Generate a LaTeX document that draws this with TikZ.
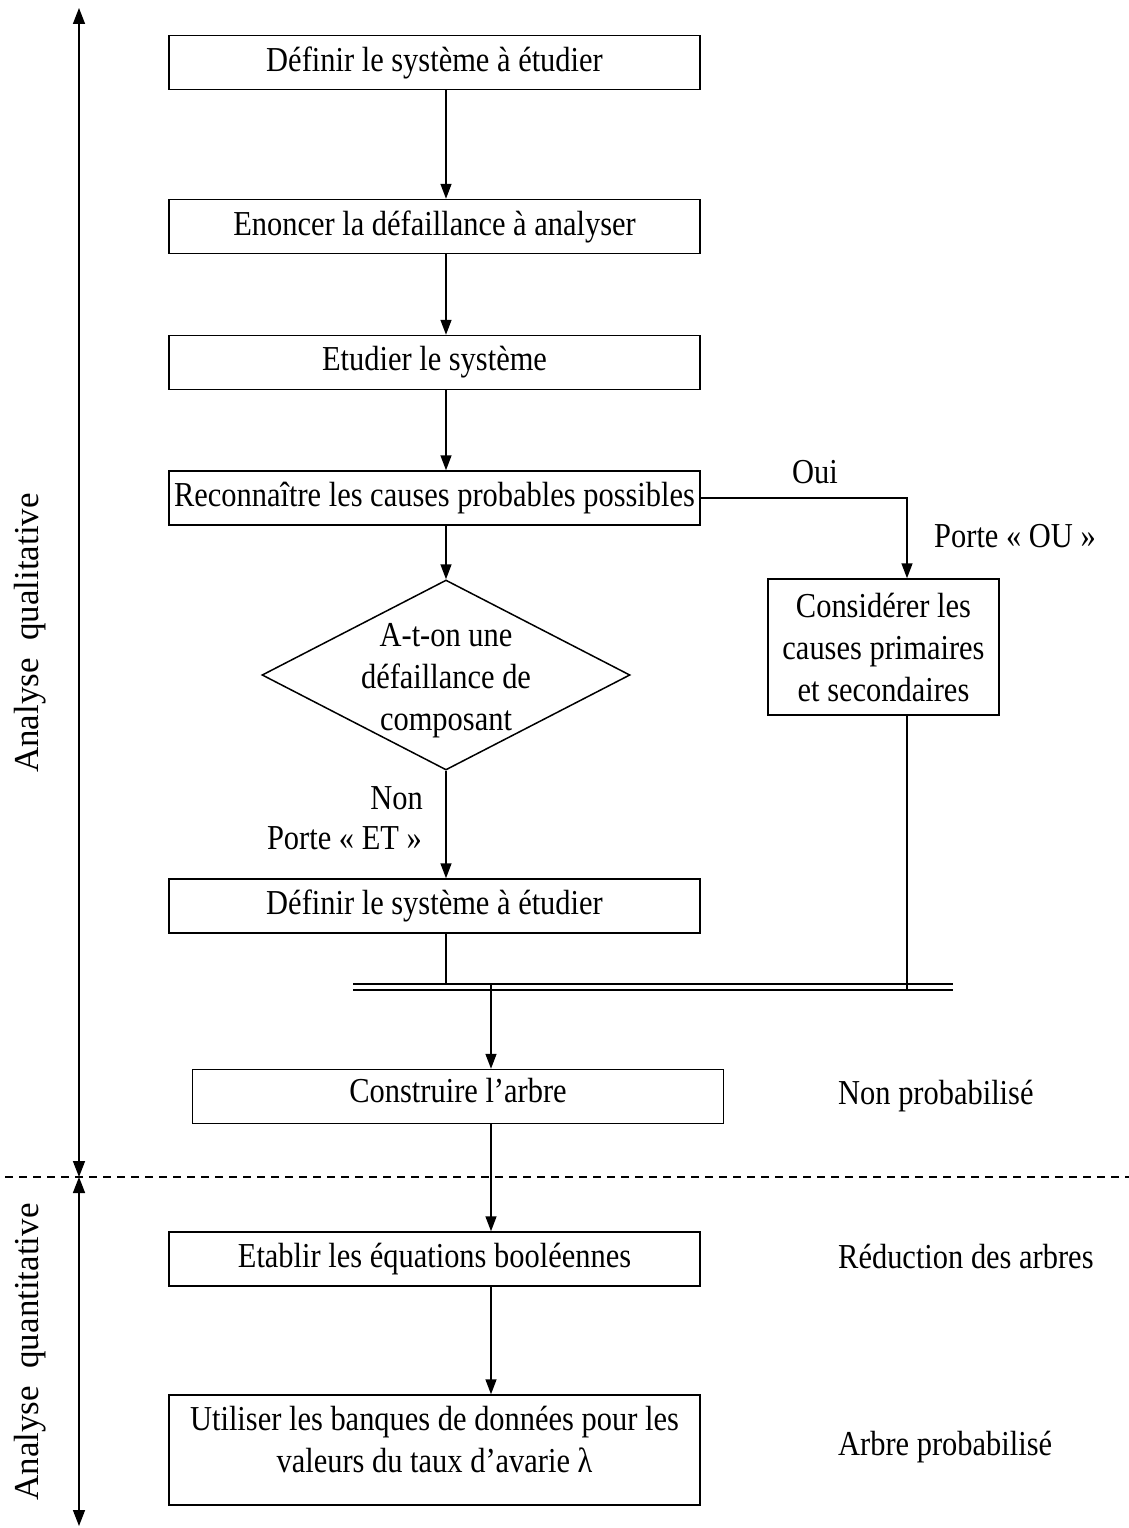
\documentclass[tikz,border=0pt]{standalone}
\usepackage{fontspec}
\setmainfont{Liberation Serif}[FakeStretch=0.87]
\newfontfamily\uprightserif{Liberation Serif}
\usetikzlibrary{arrows.meta,shapes.geometric}
\begin{document}
\begin{tikzpicture}[x=1pt,y=-1pt,
  every node/.style={font=\fontsize{35}{42}\selectfont, inner sep=0pt},
  stepbox/.style={draw, line width=1.5pt, minimum width=531pt, minimum height=54pt},
  flow/.style={line width=1.5pt, -{Triangle[length=15pt,width=11pt]}},
  plain/.style={line width=1.5pt},
  axis/.style={line width=1.5pt, {Triangle[length=16pt,width=12pt]}-{Triangle[length=16pt,width=12pt]}},
  phase/.style={rotate=90, font=\uprightserif\fontsize{35}{42}\selectfont}]
\useasboundingbox (0,0) rectangle (1129,1528);

% main sequence of steps
\node[stepbox] (s1) at (434.5,62.5) {Définir le système à étudier};
\node[stepbox] (s2) at (434.5,226.5) {Enoncer la défaillance à analyser};
\node[stepbox] (s3) at (434.5,362.5) {Etudier le système};
\node[stepbox] (s4) at (434.5,498) {Reconnaître les causes probables possibles};
\node[draw, diamond, line width=1.5pt, minimum width=368pt, minimum height=190pt] (d) at (446,675) {};
\node[align=center] (dtxt) at (446,681) {A-t-on une\\défaillance de\\composant};
\node[stepbox] (s5) at (434.5,906) {Définir le système à étudier};
\node[draw, line width=1.5pt, minimum width=231pt, minimum height=136pt, align=center] (cr) at (883.5,647) {Considérer les\\causes primaires\\et secondaires};
\node[stepbox, text depth=12pt] (s6) at (458,1096.5) {Construire l’arbre};
\node[stepbox] (s7) at (434.5,1259) {Etablir les équations booléennes};
\node[stepbox, minimum height=110pt] (s8) at (434.5,1450) {};
\node[align=center] (s8txt) at ([yshift=11pt]s8.center) {Utiliser les banques de données pour les\\valeurs du taux d’avarie λ};

% branch labels
\node (oui) at (815,472) {Oui};
\node[anchor=west] (pou) at (934,536) {Porte « OU »};
\node[anchor=east] (non) at (423,798) {Non};
\node[anchor=east] (pet) at (422,838) {Porte « ET »};

% side annotations
\node[anchor=west] (np) at (838,1096) {Non probabilisé};
\node[anchor=west] (ra) at (838,1256) {Réduction des arbres};
\node[anchor=west] (ap) at (838,1447) {Arbre probabilisé};

% connectors
\draw[flow] (s1.south -| d.north) -- (s2.north -| d.north);
\draw[flow] (s2.south -| d.north) -- (s3.north -| d.north);
\draw[flow] (s3.south -| d.north) -- (s4.north -| d.north);
\draw[flow] (s4.south -| d.north) -- (d.north);
\draw[flow] (d.south) -- (s5.north -| d.south);
\coordinate (orturn) at (907,498);
\draw[flow] (s4.east) -- (orturn) -- (orturn |- cr.north);

% joining bar (double line)
\coordinate (busL) at (353,984);
\coordinate (busR) at (953,984);
\coordinate (busOut) at (491,984);
\draw[plain] (busL) -- (busR);
\draw[plain] ([yshift=-6pt]busL) -- ([yshift=-6pt]busR);
\draw[plain] (s5.south -| d.south) -- (d.south |- busL);
\draw[plain] (orturn |- cr.south) -- ([yshift=-6pt]orturn |- busL);
\draw[flow] (busOut) -- (busOut |- s6.north);
\draw[flow] (s6.south -| busOut) -- (s7.north -| busOut);
\draw[flow] (s7.south -| busOut) -- (s8.north -| busOut);

% phase axis and separator
\coordinate (top) at (79,8);
\coordinate (mid) at (79,1177);
\coordinate (bot) at (79,1526);
\draw[axis] (top) -- (mid);
\draw[axis] (mid) -- (bot);
\coordinate (dl) at (5,1177);
\coordinate (dr) at (1129,1177);
\draw[line width=1.3pt, dash pattern=on 8pt off 6pt] (dl) -- (dr);
\node[phase] (qual) at (30,633) {Analyse\ \ qualitative};
\node[phase] (quant) at (30,1352) {Analyse\ \ quantitative};
\end{tikzpicture}
\end{document}
